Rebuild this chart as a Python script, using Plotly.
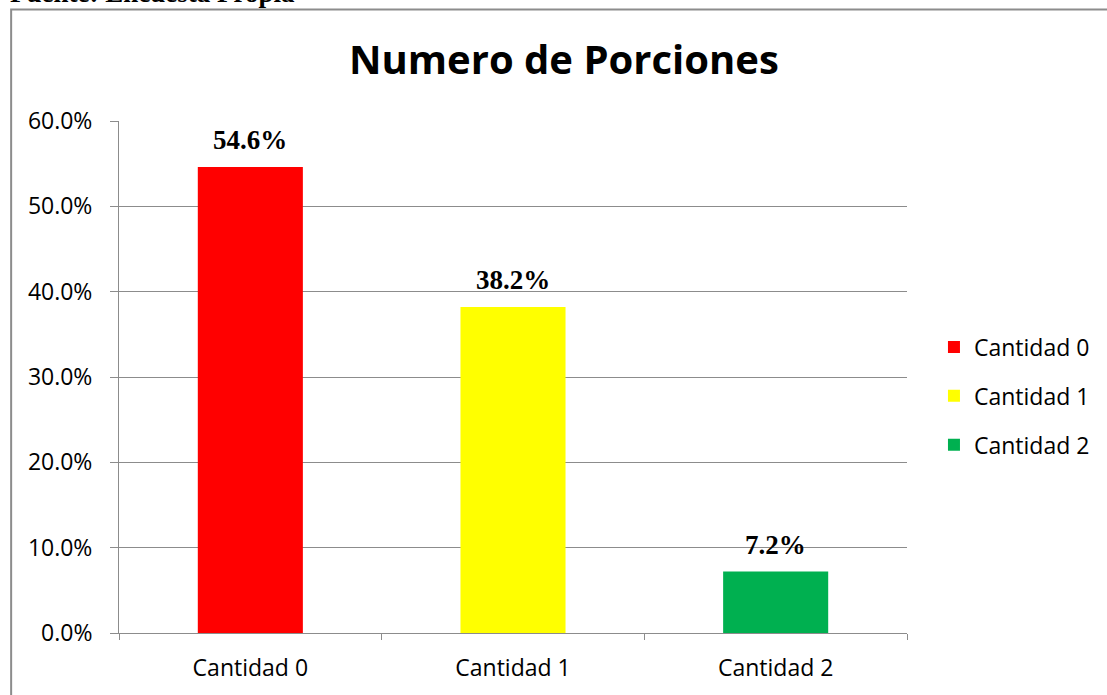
import plotly.graph_objects as go

categories = ["Cantidad 0", "Cantidad 1", "Cantidad 2"]
values = [0.546, 0.382, 0.072]
labels = ["54.6%", "38.2%", "7.2%"]
colors = ["#FF0000", "#FFFF00", "#00B050"]
title_text = "Numero de Porciones"
source_text = "Fuente: Encuesta Propia"

W, H = 1107, 695
L, R, T, B = 119, 199, 121, 60
pw, ph = W - L - R, H - T - B

def px_x(p):
    return (p - L) / pw

def px_y(p):
    return (H - B - p) / ph

SANS = "Open Sans"

fig = go.Figure()
for i, (c, v, col) in enumerate(zip(categories, values, colors)):
    fig.add_trace(go.Bar(
        x=[c], y=[v], name=c, marker=dict(color=col, line=dict(width=0)),
        width=0.4, legendgroup=f"g{i}", showlegend=True,
    ))
    fig.add_annotation(
        x=c, y=v, text=f"<b>{labels[i]}</b>", showarrow=False,
        yanchor="middle", yshift=27,
        font=dict(family="Liberation Serif", size=27, color="black"),
    )

fig.add_annotation(
    x=px_x(565), y=px_y(58), xref="paper", yref="paper", text=f"<b>{title_text}</b>",
    showarrow=False, xanchor="center", yanchor="middle",
    font=dict(family=SANS, size=40, color="black"),
)
fig.add_annotation(
    x=px_x(8), y=px_y(10), xref="paper", yref="paper", text=f"<b>{source_text}</b>",
    showarrow=False, xanchor="left", yanchor="bottom",
    font=dict(family="Liberation Serif", size=27, color="black"),
)

fig.add_shape(
    type="rect", xref="paper", yref="paper",
    x0=px_x(11), x1=px_x(W + 10), y0=px_y(H + 10), y1=px_y(9),
    line=dict(color="#8c8c8c", width=2), fillcolor="rgba(0,0,0,0)", layer="below",
)

fig.update_layout(
    width=W, height=H,
    margin=dict(l=L, r=R, t=T, b=B),
    paper_bgcolor="white", plot_bgcolor="white",
    barmode="overlay",
    font=dict(family=SANS, size=23, color="black"),
    legend=dict(
        x=px_x(935), y=px_y(397), xanchor="left", yanchor="middle",
        traceorder="grouped", tracegroupgap=16,
        font=dict(family=SANS, size=23, color="black"),
        bgcolor="rgba(0,0,0,0)",
    ),
    xaxis=dict(
        type="category", showline=True, linecolor="#8c8c8c", linewidth=1,
        ticks="outside", ticklen=6, tickcolor="#8c8c8c", tickson="boundaries",
        showgrid=False, tickfont=dict(family=SANS, size=23),
        ticklabelstandoff=14,
    ),
    yaxis=dict(
        range=[0, 0.6], dtick=0.1, tickformat=".1%",
        showline=True, linecolor="#8c8c8c", linewidth=1,
        ticks="outside", ticklen=8, tickcolor="#8c8c8c",
        showgrid=True, gridcolor="#8c8c8c", gridwidth=1,
        zeroline=False, tickfont=dict(family=SANS, size=23),
        ticklabelstandoff=13,
    ),
)

fig.write_html(
    "out.html",
    config={"displayModeBar": False},
    post_script="document.body.style.margin='0';document.body.style.overflow='hidden';",
)
